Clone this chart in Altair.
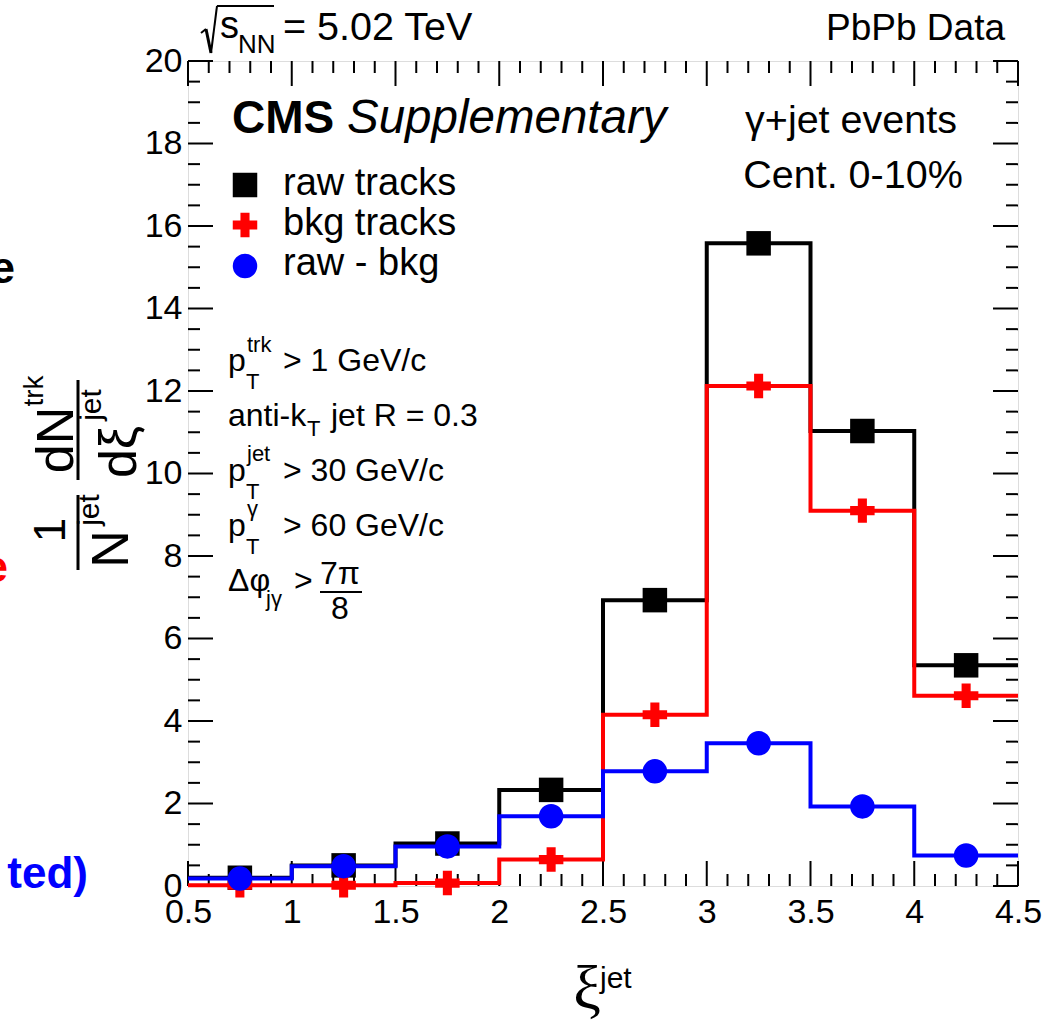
import altair as alt
import pandas as pd
import numpy as np

# ---------------- data ----------------
bin_edges = [0.5, 1.0, 1.5, 2.0, 2.5, 3.0, 3.5, 4.0, 4.5]
bin_centers = [0.75, 1.25, 1.75, 2.25, 2.75, 3.25, 3.75, 4.25]
raw_tracks = [0.20, 0.50, 1.03, 2.33, 6.93, 15.58, 11.03, 5.35]
bkg_tracks = [0.02, 0.02, 0.07, 0.64, 4.15, 12.12, 9.10, 4.61]
raw_minus_bkg = [0.18, 0.48, 0.96, 1.69, 2.78, 3.46, 1.93, 0.74]

x_major = [0.5, 1.0, 1.5, 2.0, 2.5, 3.0, 3.5, 4.0, 4.5]
x_minor = [round(v, 2) for v in np.arange(0.5, 4.501, 0.1) if abs(v * 2 - round(v * 2)) > 1e-6]
y_major = [0, 2, 4, 6, 8, 10, 12, 14, 16, 18, 20]
y_minor = [float(v) for v in np.arange(0, 20.01, 0.5) if v % 2 != 0]

# ---------------- layout ----------------
L, TOP, W, H = 188, 61, 830, 825
FONT = "Liberation Sans"
SERIF = "Liberation Serif"

xs = alt.Scale(domain=[0.5, 4.5], nice=False, zero=False)
ys = alt.Scale(domain=[0, 20], nice=False, zero=False)

dummy = pd.DataFrame({"a": [0]})

x_axis = alt.Axis(values=x_major, format=".1~f", labelFontSize=34, labelPadding=9,
                  ticks=False, domain=False, grid=False, title=None,
                  labelFlush=False, labelOverlap=False, labelFont=FONT, labelColor="black")
y_axis = alt.Axis(values=y_major, labelFontSize=34, labelPadding=6,
                  ticks=False, domain=False, grid=False, title=None,
                  labelFlush=False, labelOverlap=False, labelFont=FONT, labelColor="black")


def X(f):
    return alt.X(f, type="quantitative", scale=xs, axis=x_axis)


def Y(f):
    return alt.Y(f, type="quantitative", scale=ys, axis=y_axis)


def step_df(vals):
    return pd.DataFrame({"x": bin_edges, "y": list(vals) + [vals[-1]]})


def pts_df(vals):
    return pd.DataFrame({"x": bin_centers, "y": vals})


CROSS = ("M-0.37,-1L0.37,-1L0.37,-0.37L1,-0.37L1,0.37L0.37,0.37L0.37,1"
         "L-0.37,1L-0.37,0.37L-1,0.37L-1,-0.37L-0.37,-0.37Z")

layers = []


# ticks (inside, all four sides)
def xticks(vals, length):
    d = pd.DataFrame({"x": vals})
    bot = alt.Chart(d).mark_rule(color="black", strokeWidth=2).encode(
        x=X("x"), y=alt.value(H), y2=alt.value(H - length))
    top = alt.Chart(d).mark_rule(color="black", strokeWidth=2).encode(
        x=X("x"), y=alt.value(0), y2=alt.value(length))
    return [bot, top]


def yticks(vals, length):
    d = pd.DataFrame({"y": vals})
    left = alt.Chart(d).mark_rule(color="black", strokeWidth=2).encode(
        y=Y("y"), x=alt.value(0), x2=alt.value(length))
    right = alt.Chart(d).mark_rule(color="black", strokeWidth=2).encode(
        y=Y("y"), x=alt.value(W - length), x2=alt.value(W))
    return [left, right]


layers += xticks(x_major, 25) + xticks(x_minor, 12) + yticks(y_major, 25) + yticks(y_minor, 12)

# histograms + markers
series = [
    (raw_tracks, "#000000", "square"),
    (bkg_tracks, "#ff0000", CROSS),
    (raw_minus_bkg, "#0000ff", "circle"),
]
for vals, col, shp in series:
    layers.append(
        alt.Chart(step_df(vals)).mark_line(interpolate="step-after", color=col, strokeWidth=4).encode(
            x=X("x"), y=Y("y"))
    )
    layers.append(
        alt.Chart(pts_df(vals)).mark_point(shape=shp, filled=True, size=600, color=col, opacity=1,
                                           strokeWidth=0).encode(x=X("x"), y=Y("y"))
    )


def T(s, x, y, size, align="left", baseline="alphabetic", font=FONT, weight="normal",
      style="normal", color="black", angle=0):
    return alt.Chart(dummy).mark_text(text=s, fontSize=size, align=align, baseline=baseline,
                                      font=font, fontWeight=weight, fontStyle=style,
                                      color=color, angle=angle).encode(
        x=alt.value(x - L), y=alt.value(y - TOP))


def R(x1, y1, x2, y2, w=2, color="black"):
    return alt.Chart(dummy).mark_rule(color=color, strokeWidth=w).encode(
        x=alt.value(x1 - L), x2=alt.value(x2 - L), y=alt.value(y1 - TOP), y2=alt.value(y2 - TOP))


def P(shape, x, y, color):
    return alt.Chart(dummy).mark_point(shape=shape, filled=True, size=600, color=color,
                                       opacity=1, strokeWidth=0).encode(
        x=alt.value(x - L), y=alt.value(y - TOP))


texts = [
    # header: radical sign drawn with strokes
    R(201, 33, 206, 29, w=2),
    R(206, 29, 211, 53, w=3),
    R(211, 53, 217, 6, w=2),
    R(217, 6, 274, 6, w=2),
    T("s", 220, 38, 38),
    T("NN", 238, 53, 26),
    T("= 5.02 TeV", 283, 40, 39.5),
    T("PbPb Data", 1005, 40, 37, align="right"),
    # CMS label
    T("CMS", 232, 133, 46, weight="bold"),
    T("Supplementary", 347, 133, 47.5, style="italic"),
    # legend
    P("square", 245, 185, "#000000"),
    P(CROSS, 245, 225, "#ff0000"),
    P("circle", 245, 266, "#0000ff"),
    T("raw tracks", 283, 195, 38),
    T("bkg tracks", 283, 235, 38),
    T("raw - bkg", 283, 275, 38),
    T("γ+jet events", 851, 133, 39.5, align="center"),
    T("Cent. 0-10%", 853, 188, 39.5, align="center"),
    # selection cuts
    T("p", 228, 371, 32), T("trk", 247, 352, 22), T("T", 246, 389, 22), T("> 1 GeV/c", 283, 371, 32),
    T("anti-k", 228, 426, 32), T("T", 307, 436, 22), T("jet R = 0.3", 331, 426, 32),
    T("p", 228, 481, 32), T("jet", 247, 461, 22), T("T", 246, 499, 22), T("> 30 GeV/c", 283, 481, 32),
    T("p", 228, 536, 32), T("γ", 247, 516, 22), T("T", 246, 554, 22), T("> 60 GeV/c", 283, 536, 32),
    T("Δφ", 228, 591, 32), T("jγ", 266, 606, 22), T(">", 294, 591, 32),
    T("7π", 340, 584, 32, align="center"), R(320, 592, 362, 592, w=2), T("8", 340, 619, 32, align="center"),
    # x title
    T("ξ", 587, 1008, 62, align="center", font=SERIF),
    T("jet", 600, 988, 30),
    # y title (rotated)
    T("1", 52, 530, 44, align="center", baseline="middle", angle=270),
    R(78, 495, 78, 570, w=3),
    T("N", 112, 549, 52, align="center", baseline="middle", angle=270),
    T("jet", 90, 510, 30, align="center", baseline="middle", angle=270),
    T("dN", 57, 440, 52, align="center", baseline="middle", angle=270),
    T("trk", 35, 391, 28, align="center", baseline="middle", angle=270),
    R(78, 380, 78, 480, w=3),
    T("dξ", 120, 452, 52, align="center", baseline="middle", angle=270),
    T("jet", 92, 405, 30, align="center", baseline="middle", angle=270),
    # fragments of neighbouring panel
    T("e", 15, 283, 44, align="right", weight="bold"),
    T("e", 8, 582, 44, align="right", weight="bold", color="#ff0000"),
    T("ted)", 88, 888, 44, align="right", weight="bold", color="#0000ff"),
]
layers += texts

chart = alt.layer(*layers).properties(
    width=W, height=H,
    autosize=alt.AutoSizeParams(type="none"),
    padding={"left": L, "top": TOP, "right": 1045 - L - W, "bottom": 1025 - TOP - H},
).configure_view(stroke="black", strokeWidth=2).configure(background="white")

chart.save("out.html", embed_options={"renderer": "svg", "actions": False})
